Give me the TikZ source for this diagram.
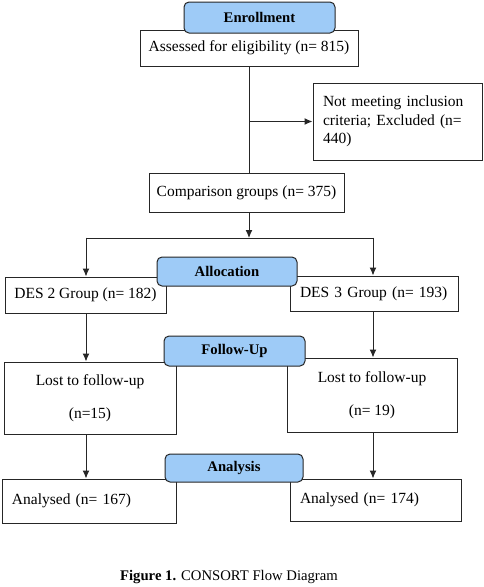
\documentclass[tikz,border=0pt]{standalone}
\usepackage{fontspec}
\setmainfont{Liberation Serif}
\usetikzlibrary{positioning, arrows.meta}
\definecolor{phaseblue}{RGB}{158,203,247}
\newcommand{\bodyfont}{\fontsize{15.5}{18.6}\selectfont}
\newcommand{\headfont}{\fontsize{14.7}{17.6}\selectfont\bfseries}

\begin{document}
\begin{tikzpicture}[x=1pt,y=-1pt,
  box/.style={draw=black!85,line width=1pt,fill=white,inner sep=0pt,font=\bodyfont,align=center},
  lbox/.style={box,inner xsep=10pt,align=left},
  phase/.style={draw=black!85,line width=1pt,fill=phaseblue,rounded corners=5pt,inner sep=0pt,font=\headfont},
  arr/.style={draw=black!85,line width=1pt,-{Latex[length=8pt,width=7pt]}},
  ln/.style={draw=black!85,line width=1pt}]
\useasboundingbox (0,0) rectangle (484,587);

% boxes
\node[box,minimum width=218pt,minimum height=36pt] (assess) at (249,48) {Assessed for eligibility (n= 815)};
\node[lbox,text width=149pt,minimum height=77pt] (excl) at (397.5,121.5) {Not meeting inclusion\\criteria; Excluded (n=\\440)};
\node[box,minimum width=195pt,minimum height=39pt] (comp) at (246.5,192.5) {Comparison groups (n= 375)};
\node[box,minimum width=161pt,minimum height=36pt] (des2) at (85.5,295) {DES 2 Group (n= 182)};
\node[lbox,text width=148pt,minimum height=35pt] (des3) at (374,293.5) {DES 3 Group (n= 193)};
\node[box,minimum width=172pt,minimum height=72pt] (lost2) at (90,398) {Lost to follow-up\\[14pt](n=15)};
\node[box,minimum width=170pt,minimum height=74pt] (lost3) at (372,395) {Lost to follow-up\\[14pt](n= 19)};
\node[lbox,text width=154pt,minimum height=44pt] (an2) at (89,501) {Analysed (n= 167)};
\node[lbox,text width=151pt,minimum height=42pt] (an3) at (375.5,500) {Analysed (n= 174)};

% phase labels
\node[phase,minimum width=151pt,minimum height=31pt] (enrol) at (259.5,17.5) {Enrollment};
\node[phase,minimum width=140pt,minimum height=29pt] (alloc) at (227,271.5) {Allocation};
\node[phase,minimum width=141pt,minimum height=30pt] (follow) at (234.5,351) {Follow-Up};
\node[phase,minimum width=138pt,minimum height=28pt] (anal) at (234,468) {Analysis};

\node[font=\fontsize{14.7}{17.6}\selectfont] (caption) at (229,577) {\textbf{Figure 1.} CONSORT Flow Diagram};

% connectors
\coordinate (split) at (249,238);
\draw[ln] (assess.south) -- (assess.south |- comp.north);
\draw[arr] (assess.south |- excl.west) -- (excl.west);
\draw[arr] (comp.south -| split) -- (split);
\draw[ln] (split -| 86,0) -- (split -| 373,0);
\draw[arr] (des2.north -| 86,0) ++(0,-39) -- (des2.north -| 86,0);
\draw[arr] (des3.north -| 373,0) ++(0,-38) -- (des3.north -| 373,0);
\draw[arr] (des2.south -| 86,0) -- (lost2.north -| 86,0);
\draw[arr] (des3.south -| 373,0) -- (lost3.north -| 373,0);
\draw[arr] (lost2.south -| 86,0) -- (an2.north -| 86,0);
\draw[arr] (lost3.south -| 373,0) -- (an3.north -| 373,0);
\end{tikzpicture}
\end{document}
